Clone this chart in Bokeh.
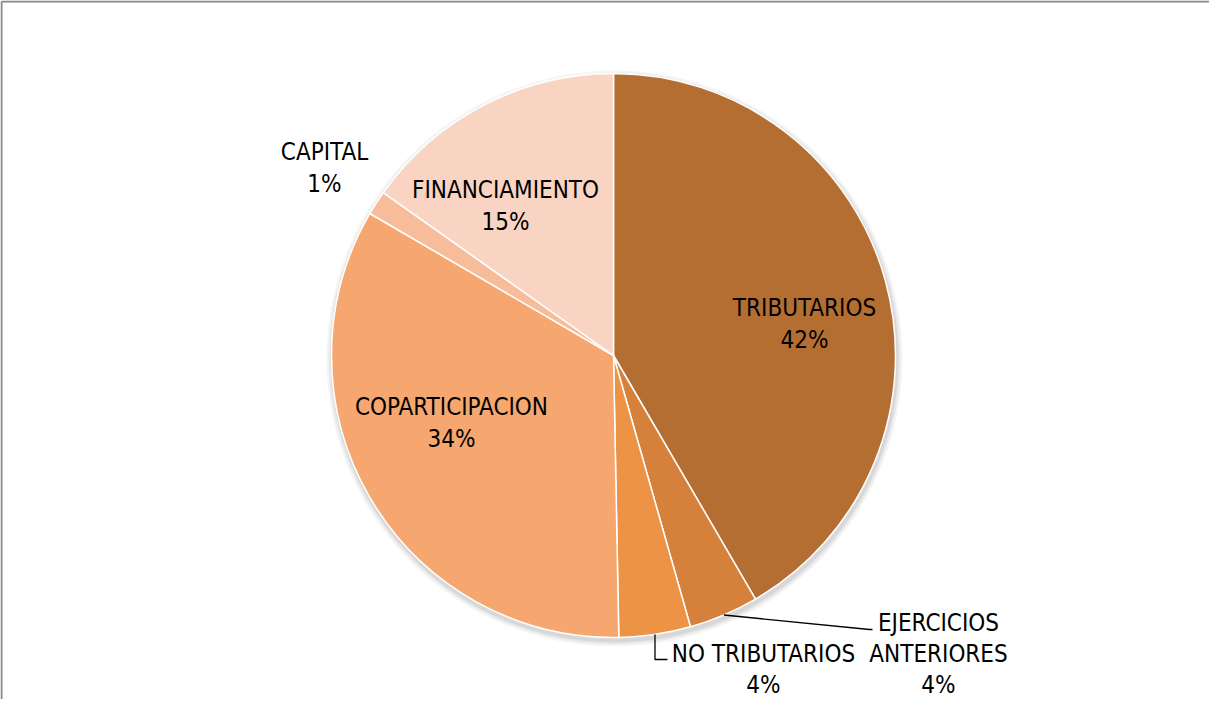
import math
from bokeh.plotting import figure
from bokeh.models import Range1d, ColumnDataSource
from bokeh.core.properties import value
from bokeh.embed import file_html
from bokeh.resources import INLINE

# ---- data ----
categories = ["TRIBUTARIOS", "EJERCICIOS ANTERIORES", "NO TRIBUTARIOS",
              "COPARTICIPACION", "CAPITAL", "FINANCIAMIENTO"]
shares = [41.6, 4.0, 4.1, 33.7, 1.4, 15.2]
pct_labels = ["42%", "4%", "4%", "34%", "1%", "15%"]
colors = ["#B46E32", "#D5803B", "#EC9345", "#F6A76F", "#F7BD9A", "#F9D4C2"]

# ---- layout ----
W, H = 1209, 699          # fits 1225x715 window with 8px body margin
PY = 715                  # data y = PY - page y
FONT = "'DejaVu Sans Condensed', 'Liberation Sans'"
FS = "24px"
cx, cy, R = 621, PY - 363, 282   # pie centre (page pixels)

p = figure(width=W, height=H, output_backend="svg", toolbar_location=None,
           x_range=Range1d(8, 8 + W), y_range=Range1d(PY - 8 - H, PY - 8),
           min_border=0)
p.axis.visible = False
p.grid.visible = False
p.outline_line_color = None
p.background_fill_color = "white"
p.border_fill_color = "white"

# chart frame (only top and left edges are visible in the crop)
top = PY - 9
p.line([9, 8 + W], [top, top], line_color="#888888", line_width=2)
p.line([9, 9], [PY - 8 - H, top], line_color="#888888", line_width=2)

total = sum(shares)
cum = [0.0]
for s in shares:
    cum.append(cum[-1] + s / total)
start = [math.pi / 2 - 2 * math.pi * c for c in cum[:-1]]
end = [math.pi / 2 - 2 * math.pi * c for c in cum[1:]]
mid = [(a + b) / 2 for a, b in zip(start, end)]

# soft shadow
for dr, a in [(6, 0.04), (4, 0.05), (2, 0.07)]:
    p.circle(x=[cx + 1], y=[cy - 3], radius=R + dr, fill_color="#000000",
             fill_alpha=a, line_color=None)

src = ColumnDataSource(dict(start=start, end=end, color=colors, cat=categories))
p.wedge(x=cx, y=cy, radius=R, start_angle="start", end_angle="end",
        direction="clock", fill_color="color", line_color="white",
        line_width=1.5, source=src)

# label anchors (centre of first text line, page pixels, y down), line step
label_pos = {
    "TRIBUTARIOS": (812, 315, ["TRIBUTARIOS"], 32),
    "EJERCICIOS ANTERIORES": (946, 630, ["EJERCICIOS", "ANTERIORES"], 31),
    "NO TRIBUTARIOS": (771, 661, ["NO TRIBUTARIOS"], 31),
    "COPARTICIPACION": (459, 414, ["COPARTICIPACION"], 32),
    "CAPITAL": (332, 159, ["CAPITAL"], 32),
    "FINANCIAMIENTO": (513, 197, ["FINANCIAMIENTO"], 32),
}
tx, ty, tt = [], [], []
for cat, pct in zip(categories, pct_labels):
    x0, y0, lines, ls = label_pos[cat]
    for k, ln in enumerate(lines + [pct]):
        tx.append(x0)
        ty.append(PY - (y0 + k * ls))
        tt.append(ln)
p.text(x=tx, y=ty, text=tt, text_font=value(FONT), text_font_size=FS,
       text_color="#000000", text_align="center", text_baseline="middle")

# leader lines
i_ej = categories.index("EJERCICIOS ANTERIORES")
i_nt = categories.index("NO TRIBUTARIOS")
ex, ey = cx + R * math.cos(mid[i_ej]), cy + R * math.sin(mid[i_ej])
p.line([ex, 877, 880], [ey, PY - 637, PY - 637], line_color="black", line_width=1.3)
nx, ny = cx + R * math.cos(mid[i_nt]), cy + R * math.sin(mid[i_nt])
p.line([nx, nx, 675], [ny, PY - 667, PY - 667], line_color="black", line_width=1.3)

open("out.html", "w").write(file_html(p, INLINE))
